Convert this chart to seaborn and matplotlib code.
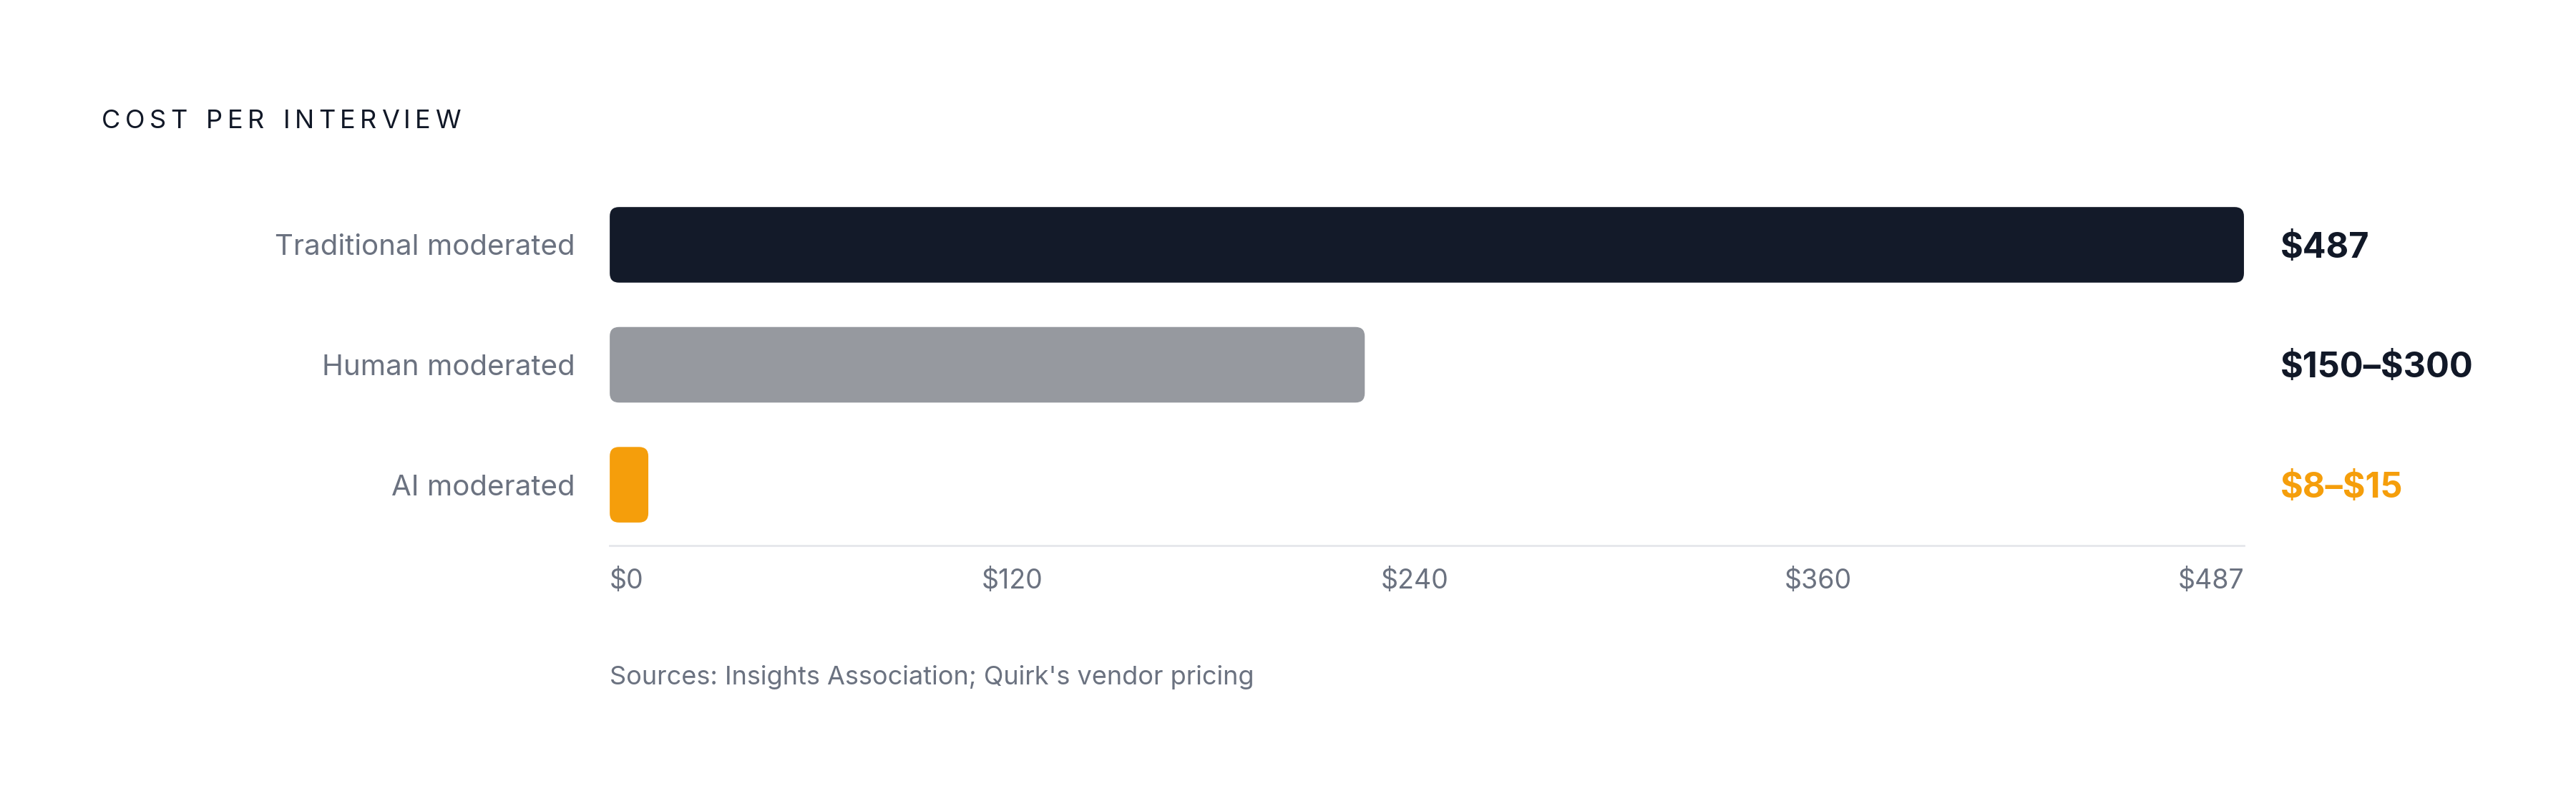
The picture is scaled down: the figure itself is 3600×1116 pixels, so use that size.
import matplotlib
matplotlib.use("Agg")
import matplotlib.pyplot as plt
import seaborn as sns
from matplotlib.patches import FancyBboxPatch

categories = ["Traditional moderated", "Human moderated", "AI moderated"]
bar_values = [487, 225, 11.5]
value_labels = ["$487", "$150–$300", "$8–$15"]
tick_values = [0, 120, 240, 360, 487]
tick_labels = ["$0", "$120", "$240", "$360", "$487"]

bar_colors = ["#131a29", "#96999f", "#f59e0b"]
value_colors = ["#111827", "#111827", "#f59e0b"]
grey_text = "#6b7280"

sns.set_theme(style="white")
plt.rcParams["font.family"] = ["Inter", "DejaVu Sans"]
plt.rcParams["text.parse_math"] = False

fig = plt.figure(figsize=(36, 11.16), dpi=100)
ax = fig.add_axes([0.2367, 0.3172, 0.6344, 0.4525])

sns.barplot(x=bar_values, y=categories, hue=categories, palette=bar_colors,
            orient="h", width=0.63, saturation=1, legend=False, ax=ax)

ax.set_xlim(0, 487)
ax.set_ylim(2.507, -0.507)
ax.set_xlabel("")
ax.set_ylabel("")

for side in ["top", "right", "left"]:
    ax.spines[side].set_visible(False)
ax.spines["bottom"].set_color("#e5e7eb")
ax.spines["bottom"].set_linewidth(2)

ax.set_xticks(tick_values, tick_labels)
ax.tick_params(axis="x", length=0, pad=23, labelsize=27, labelcolor=grey_text)
ax.tick_params(axis="y", length=0, pad=35, labelsize=29, labelcolor=grey_text)
xl = ax.get_xticklabels()
xl[0].set_ha("left")
xl[-1].set_ha("right")

# swap the square bars for rounded ones
r_px = 13
inv = ax.transData.inverted()
(ax0, ay0), (ax1, ay1) = inv.transform([(0, 0), (r_px, r_px)])
rx, ry = abs(ax1 - ax0), abs(ay1 - ay0)
for p in list(ax.patches):
    x0, y0, w, h = p.get_x(), p.get_y(), p.get_width(), p.get_height()
    fc = p.get_facecolor()
    p.remove()
    ax.add_patch(FancyBboxPatch((x0, y0), w, h,
                                boxstyle=f"round,pad=0,rounding_size={rx}",
                                mutation_aspect=ry / rx, fc=fc, ec="none"))

for i, (lab, col) in enumerate(zip(value_labels, value_colors)):
    ax.annotate(lab, xy=(1, i), xycoords=("axes fraction", "data"),
                xytext=(36.5, -3.5), textcoords="offset points",
                ha="left", va="center", fontsize=35, fontweight="bold", color=col)

fig.text(0.2367, 0.152, "Sources: Insights Association; Quirk's vendor pricing",
         fontsize=26, color=grey_text, va="center")

# letter-spaced title, one glyph at a time
title = "COST PER INTERVIEW"
fig.canvas.draw()
renderer = fig.canvas.get_renderer()
glyphs = []
for ch in title:
    if ch == " ":
        glyphs.append(None)
        continue
    t = fig.text(0, 1 - 170 / 1116, ch, fontsize=26, color="#111827", va="center")
    glyphs.append(t)
ink = sum(g.get_window_extent(renderer).width for g in glyphs if g is not None)
s = (502 - 40 - ink) / 15
x_px = 142
for g in glyphs:
    if g is None:
        x_px += 20
        continue
    g.set_x(x_px / 3600)
    x_px += g.get_window_extent(renderer).width + s

fig.savefig("out.png", dpi=100, facecolor="white")
